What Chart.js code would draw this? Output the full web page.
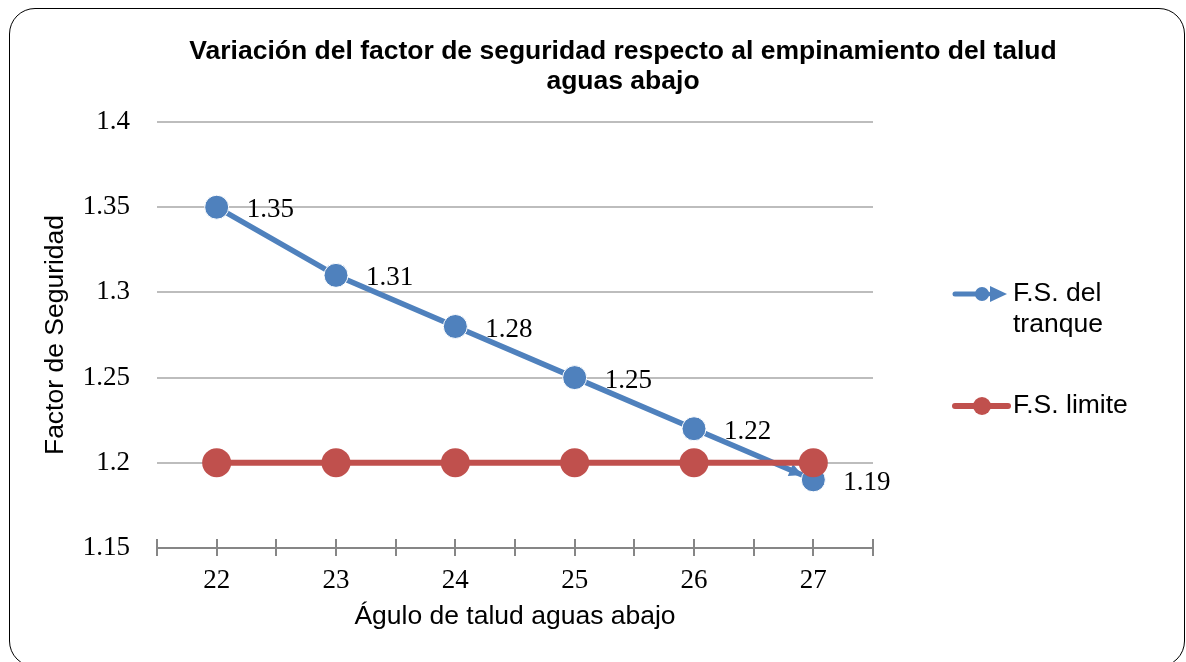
<!DOCTYPE html>
<html>
<head>
<meta charset="utf-8">
<script src="https://cdn.jsdelivr.net/npm/chart.js@4.4.1/dist/chart.umd.min.js"></script>
<style>
  html, body { margin: 0; padding: 0; background: #fff; }
  #wrap { position: relative; width: 1186px; height: 662px; overflow: hidden; }
  #frame { position: absolute; left: 9px; top: 8px; width: 1176px; height: 659px;
           border: 1.5px solid #000; border-radius: 26px; box-sizing: border-box; pointer-events: none; }
  canvas { position: absolute; left: 0; top: 0; }
</style>
</head>
<body>
<div id="wrap">
  <canvas id="c" width="1186" height="662"></canvas>
  <div id="frame"></div>
</div>
<script>
const titleLines = ["Variación del factor de seguridad respecto al empinamiento del talud", "aguas abajo"];
const categories = [22, 23, 24, 25, 26, 27];
const fsTranque = [1.35, 1.31, 1.28, 1.25, 1.22, 1.19];
const fsLimite = [1.2, 1.2, 1.2, 1.2, 1.2, 1.2];
const seriesNames = [["F.S. del", "tranque"], ["F.S. limite"]];
const xTitle = "Águlo de talud aguas abajo";
const yTitle = "Factor de Seguridad";
const yTicks = [1.15, 1.2, 1.25, 1.3, 1.35, 1.4];

const BLUE = "#4F81BD";
const RED = "#C0504D";
const SANS = "'Liberation Sans', Arial, sans-serif";
const SERIF = "'Liberation Serif', 'Times New Roman', serif";
const SANS_SIZE = 26.5;
const SERIF_SIZE = 27;

const toPts = arr => categories.map((c, i) => ({ x: c, y: arr[i] }));

const customDraw = {
  id: 'customDraw',
  afterDatasetDraw(chart, args) {
    if (args.index !== 0) return;
    const pts = chart.getDatasetMeta(0).data;
    const a = pts[pts.length - 2], b = pts[pts.length - 1];
    const dx = b.x - a.x, dy = b.y - a.y, len = Math.hypot(dx, dy);
    const ux = dx / len, uy = dy / len;
    const r = 12;
    const tx = b.x - ux * r, ty = b.y - uy * r;
    const L = 13, W = 6.5;
    const ctx = chart.ctx;
    ctx.save();
    ctx.fillStyle = BLUE;
    ctx.beginPath();
    ctx.moveTo(tx, ty);
    ctx.lineTo(tx - ux * L - uy * W, ty - uy * L + ux * W);
    ctx.lineTo(tx - ux * L + uy * W, ty - uy * L - ux * W);
    ctx.closePath();
    ctx.fill();
    ctx.restore();
  },
  afterDatasetsDraw(chart) {
    const ctx = chart.ctx;
    ctx.save();
    ctx.font = SERIF_SIZE + "px " + SERIF;
    ctx.fillStyle = "#000";
    ctx.textAlign = "left";
    ctx.textBaseline = "middle";
    const meta = chart.getDatasetMeta(0);
    meta.data.forEach((p, i) => {
      ctx.fillText(fsTranque[i].toFixed(2), p.x + 30, p.y + 3);
    });
    const xs = chart.scales.x;
    ctx.strokeStyle = "#868686";
    ctx.lineWidth = 2;
    xs.ticks.forEach(t => {
      const px = Math.round(xs.getPixelForValue(t.value));
      ctx.beginPath();
      ctx.moveTo(px, xs.top - 9);
      ctx.lineTo(px, xs.top);
      ctx.stroke();
    });
    ctx.restore();
  },
  afterDraw(chart) {
    const ctx = chart.ctx;
    ctx.save();
    ctx.font = "bold " + SANS_SIZE + "px " + SANS;
    ctx.fillStyle = "#000";
    ctx.textAlign = "center";
    ctx.textBaseline = "middle";
    ctx.fillText(titleLines[0], 623, 52);
    ctx.fillText(titleLines[1], 623, 82);
    ctx.font = SANS_SIZE + "px " + SANS;
    ctx.textAlign = "left";
    let y = 294;
    ctx.strokeStyle = BLUE; ctx.lineWidth = 5; ctx.lineCap = "round";
    ctx.beginPath(); ctx.moveTo(955, y); ctx.lineTo(988, y); ctx.stroke();
    ctx.fillStyle = BLUE;
    ctx.beginPath(); ctx.arc(982, y, 7, 0, Math.PI * 2); ctx.fill();
    ctx.beginPath(); ctx.moveTo(1007, y); ctx.lineTo(990, y - 8); ctx.lineTo(990, y + 8); ctx.closePath(); ctx.fill();
    ctx.fillStyle = "#000";
    ctx.fillText(seriesNames[0][0], 1013, y);
    ctx.fillText(seriesNames[0][1], 1013, y + 31);
    y = 406;
    ctx.strokeStyle = RED; ctx.lineWidth = 6;
    ctx.beginPath(); ctx.moveTo(955, y); ctx.lineTo(1008, y); ctx.stroke();
    ctx.fillStyle = RED;
    ctx.beginPath(); ctx.arc(982, y, 9, 0, Math.PI * 2); ctx.fill();
    ctx.fillStyle = "#000";
    ctx.fillText(seriesNames[1][0], 1013, y);
    ctx.restore();
  }
};

new Chart(document.getElementById('c'), {
  type: 'line',
  data: {
    datasets: [
      {
        label: seriesNames[0].join(' '),
        data: toPts(fsTranque),
        borderColor: BLUE,
        backgroundColor: BLUE,
        borderWidth: 5.5,
        pointRadius: 12,
        pointBackgroundColor: BLUE,
        pointBorderColor: "#fff",
        pointBorderWidth: 1,
        tension: 0,
        order: 1
      },
      {
        label: seriesNames[1][0],
        data: toPts(fsLimite),
        borderColor: RED,
        backgroundColor: RED,
        borderWidth: 6,
        pointRadius: 14.5,
        pointBackgroundColor: RED,
        pointBorderColor: RED,
        pointBorderWidth: 0,
        tension: 0,
        order: 0
      }
    ]
  },
  options: {
    responsive: false,
    animation: false,
    devicePixelRatio: 1,
    layout: { padding: { left: 10, right: 313, top: 122, bottom: 20 } },
    plugins: {
      legend: { display: false },
      title: { display: false },
      tooltip: { enabled: false }
    },
    scales: {
      x: {
        type: 'linear',
        min: 21.5,
        max: 27.5,
        afterBuildTicks(scale) {
          const t = [];
          categories.forEach((c, i) => {
            if (i === 0) t.push({ value: c - 0.5 });
            t.push({ value: c });
            t.push({ value: c + 0.5 });
          });
          scale.ticks = t;
        },
        afterFit(scale) { scale.height = 94; },
        ticks: {
          autoSkip: false,
          maxRotation: 0,
          padding: 9,
          color: "#000",
          font: { family: SERIF, size: SERIF_SIZE },
          callback(v) { return Number.isInteger(v) ? String(v) : ''; }
        },
        grid: { drawOnChartArea: false, drawTicks: true, tickLength: 8, color: "#868686", lineWidth: 2 },
        border: { display: true, color: "#868686", width: 2 },
        title: { display: true, text: xTitle, color: "#000", font: { family: SANS, size: SANS_SIZE }, padding: { top: 0, bottom: 9 } }
      },
      y: {
        min: 1.15,
        max: 1.4,
        afterBuildTicks(scale) { scale.ticks = yTicks.map(v => ({ value: v })); },
        afterFit(scale) { scale.width = 147; },
        ticks: {
          padding: 27,
          color: "#000",
          font: { family: SERIF, size: SERIF_SIZE },
          callback(v) { return String(Math.round(v * 100) / 100); }
        },
        grid: { drawTicks: false, color: "#BDBDBD", lineWidth: 2 },
        border: { display: false },
        title: { display: true, text: yTitle, color: "#000", font: { family: SANS, size: SANS_SIZE }, padding: { top: 30, bottom: 0 } }
      }
    }
  },
  plugins: [customDraw]
});
</script>
</body>
</html>
